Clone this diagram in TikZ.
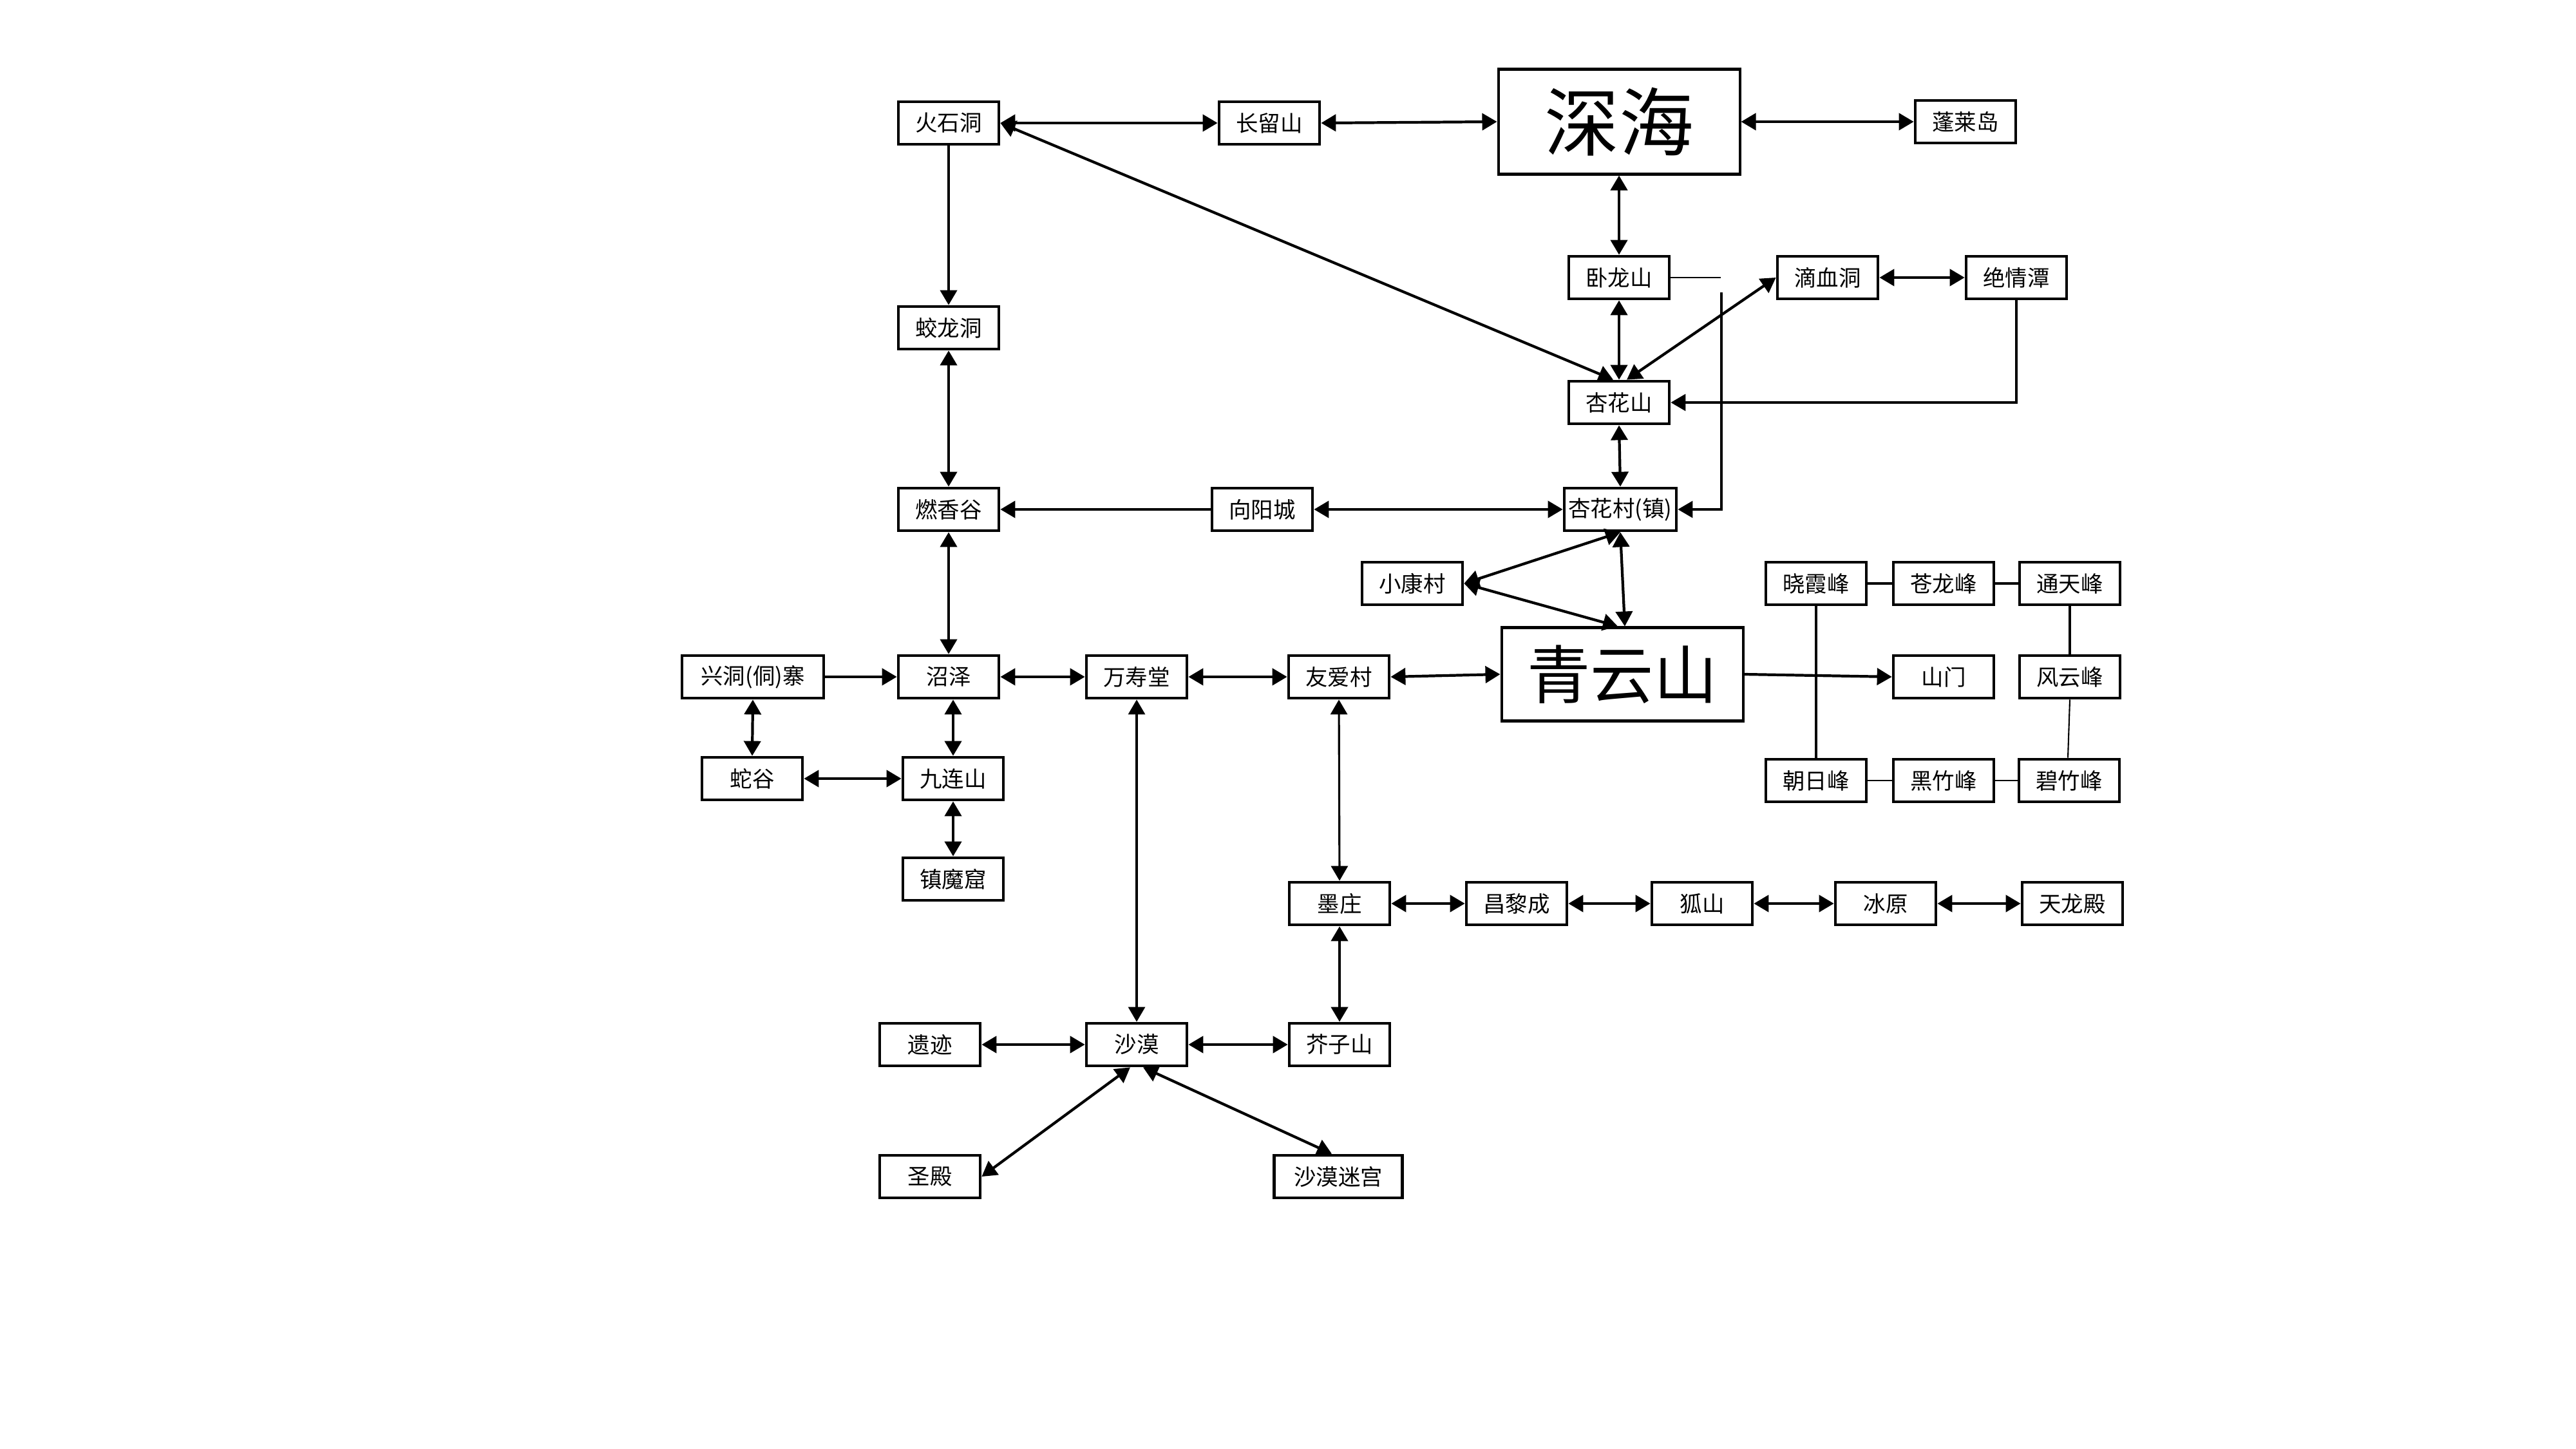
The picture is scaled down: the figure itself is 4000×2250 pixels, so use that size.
\documentclass[tikz,border=0pt]{standalone}
\usepackage{fontspec}
\newfontfamily\cjk{Noto Sans CJK SC}
\usetikzlibrary{arrows.meta}
\tikzset{
  >={Triangle[length=2.3mm,width=2.6mm]},
  box/.style={draw, line width=1.35pt, minimum width=15.6mm, minimum height=6.6mm, inner sep=0pt, fill=white, font=\cjk\fontsize{9.8}{11}\selectfont},
  bigbox/.style={box, line width=1.15pt, minimum width=37.5mm, minimum height=16.3mm, font=\cjk\fontsize{33}{36}\selectfont},
  qybox/.style={box, line width=1.15pt, minimum width=37.5mm, minimum height=14.5mm, font=\cjk\fontsize{28}{32}\selectfont},
  con/.style={line width=1.2pt},
  thinline/.style={line width=0.6pt},
  midline/.style={line width=0.9pt},
}
\begin{document}
\begin{tikzpicture}[x=0.1mm,y=-0.1mm]
\path[use as bounding box] (0,0) rectangle (4000,2250);
% nodes
\node[box] (hsd) at (1473,191) {火石洞};
\node[box] (cls) at (1971,191) {长留山};
\node[bigbox] (sh) at (2514,189) {深海};
\node[box] (plk) at (3052,189) {蓬莱岛};
\node[box] (wls) at (2514,431) {卧龙山};
\node[box] (dxd) at (2838,431) {滴血洞};
\node[box] (jqt) at (3131,431) {绝情潭};
\node[box] (jld) at (1473,509) {蛟龙洞};
\node[box] (xhs) at (2514,625) {杏花山};
\node[box] (rxg) at (1473,791) {燃香谷};
\node[box] (xyc) at (1960,791) {向阳城};
\node[box, minimum width=17.4mm] (xhc) at (2516,791) {杏花村(镇)};
\node[box] (xkc) at (2193,906) {小康村};
\node[qybox] (qys) at (2519,1047) {青云山};
\node[box] (xxf) at (2820,906) {晓霞峰};
\node[box] (clf) at (3018,906) {苍龙峰};
\node[box] (ttf) at (3214,906) {通天峰};
\node[box] (sm) at (3018,1051) {山门};
\node[box] (fyf) at (3214,1051) {风云峰};
\node[box] (zrf) at (2820,1212) {朝日峰};
\node[box] (hzf) at (3018,1212) {黑竹峰};
\node[box] (bzf) at (3213,1212) {碧竹峰};
\node[box, minimum width=22mm] (xdz) at (1169,1051) {兴洞(侗)寨};
\node[box] (zz) at (1473,1051) {沼泽};
\node[box] (wst) at (1765,1051) {万寿堂};
\node[box] (yac) at (2079,1051) {友爱村};
\node[box] (sg) at (1168,1209) {蛇谷};
\node[box] (jls) at (1480,1209) {九连山};
\node[box] (zmk) at (1480,1365) {镇魔窟};
\node[box] (mz) at (2080,1403) {墨庄};
\node[box] (clc) at (2355,1403) {昌黎成};
\node[box] (hus) at (2643,1403) {狐山};
\node[box] (by) at (2928,1403) {冰原};
\node[box] (tld) at (3218,1403) {天龙殿};
\node[box] (yj) at (1444,1622) {遗迹};
\node[box] (sm2) at (1765,1622) {沙漠};
\node[box] (jzs) at (2080,1622) {芥子山};
\node[box] (sd) at (1444,1827) {圣殿};
\node[box, minimum width=19.9mm] (smmg) at (2078,1827) {沙漠迷宫};
% top row
\draw[con,<->] (hsd.east) -- (cls.west);
\draw[con,<->] (cls.east) -- (sh.west);
\draw[con,<->] (sh.east) -- (plk.west);
\draw[con,->] (hsd.south) -- (jld.north);
\draw[con,<->] (hsd.east) -- ([xshift=-0.9mm]xhs.north);
\draw[con,<->] (sh.south) -- (wls.north);
\draw[con,<->] (wls.south) -- (xhs.north);
\draw[con,<->] ([xshift=1.2mm]xhs.north) -- (dxd.west);
\draw[con,<->] (dxd.east) -- (jqt.west);
\draw[midline,->] (jqt.south) |- (xhs.east);
\coordinate (wlsend) at (2672,431);
\coordinate (vstart) at (2673,454);
\draw[thinline] (wls.east) -- (wlsend);
\draw[midline,->] (vstart) |- (xhc.east);
\draw[con,<->] (xhs.south) -- (xhc.north);
% middle
\draw[con,<->] (jld.south) -- (jld.south |- rxg.north);
\draw[con,->] (xyc.west) -- (rxg.east);
\draw[con,<->] (xyc.east) -- (xhc.west);
\draw[con,<->] (rxg.south) -- (zz.north);
\draw[con,<->] (xhc.south) -- (xkc.east);
\draw[con,<->] (xkc.east) -- ([xshift=-0.7mm]qys.north);
\draw[con,<->] (xhc.south) -- ([xshift=0.4mm]qys.north);
\draw[con,<->] (yac.east) -- (qys.west);
% peaks
\draw[midline] (xxf.south) -- (zrf.north);
\draw[con,->] (qys.east) -- (sm.west);
\draw[con] (xxf.east) -- (clf.west);
\draw[con] (clf.east) -- (ttf.west);
\draw[midline] (ttf.south) -- (fyf.north);
\draw[thinline] (fyf.south) -- ([xshift=-0.2mm]bzf.north);
\draw[thinline] (zrf.east) -- (hzf.west);
\draw[thinline] (hzf.east) -- (bzf.west);
% left cluster
\draw[con,->] (xdz.east) -- (zz.west);
\draw[con,<->] (zz.east) -- (wst.west);
\draw[con,<->] (wst.east) -- (yac.west);
\draw[con,<->] (xdz.south) -- (sg.north);
\draw[con,<->] (jls.north |- zz.south) -- (jls.north);
\draw[con,<->] (sg.east) -- (jls.west);
\draw[con,<->] (jls.south) -- (zmk.north);
\draw[midline,<->] (wst.south) -- (sm2.north);
\draw[midline,<->] (yac.south) -- (mz.north);
% bottom row
\draw[con,<->] (mz.east) -- (clc.west);
\draw[con,<->] (clc.east) -- (hus.west);
\draw[con,<->] (hus.east) -- (by.west);
\draw[con,<->] (by.east) -- (tld.west);
\draw[con,<->] (mz.south) -- (jzs.north);
\draw[con,<->] (yj.east) -- (sm2.west);
\draw[con,<->] (sm2.east) -- (jzs.west);
\draw[con,<->] ([xshift=-1mm]sm2.south) -- (sd.east);
\draw[con,<->] ([xshift=1mm]sm2.south) -- ([xshift=-1mm]smmg.north);
\end{tikzpicture}
\end{document}
